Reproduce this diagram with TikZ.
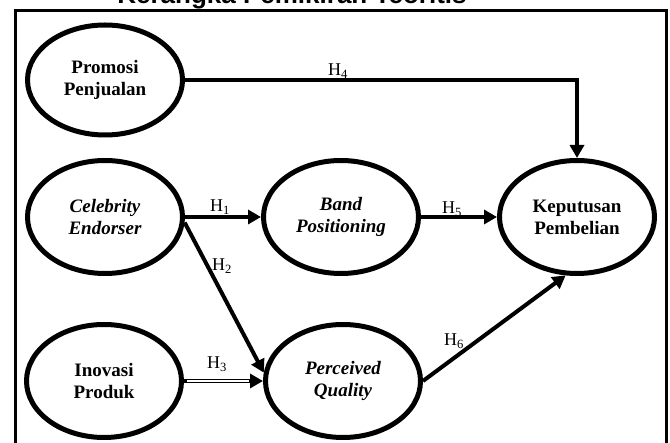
\documentclass[tikz,border=0pt]{standalone}
\usepackage{fontspec}
\setmainfont{Liberation Serif}
\newfontfamily\titlefont{Liberation Sans}
\usetikzlibrary{shapes.geometric,arrows.meta}

\tikzset{
	var/.style={shape=ellipse,draw=black,line width=5pt,fill=white,minimum width=155pt,minimum height=113pt,inner sep=0pt,align=center,font=\fontsize{19}{22}\selectfont\bfseries},
	varit/.style={var,font=\fontsize{19}{22}\selectfont\bfseries\itshape},
	hyp/.style={line width=4pt,-{Triangle[length=13pt,width=14pt]}},
	hlabel/.style={inner sep=0pt,font=\fontsize{18}{20}\selectfont}
}

\begin{document}
\begin{tikzpicture}[x=1pt,y=-1pt]
		\useasboundingbox (0,0) rectangle (670,443);
		\node [anchor=base,font={\titlefont\bfseries\fontsize{26}{30}\selectfont}] (title) at (292,4) {Kerangka Pemikiran Teoritis};
		\draw [line width=3pt] (15,470) -- (15,11) -- (666,11) -- (666,470);
		\node [var,minimum height=110pt] (promosi) at (105,80) {Promosi\\Penjualan};
		\node [varit] (celebrity) at (105,217) {Celebrity\\Endorser};
		\node [var] (inovasi) at (104,381) {Inovasi\\Produk};
		\node [varit] (band) at (341,217) {Band\\Positioning};
		\node [varit] (perceived) at (343,381) {Perceived\\Quality};
		\node [var] (keputusan) at (577,217) {Keputusan\\Pembelian};
		\draw [hyp] (promosi.east) -| (keputusan.north);
		\draw [hyp] (celebrity.east) -- (band.west);
		\draw [hyp] (celebrity.-4) -- (perceived.174);
		\draw [hyp] (inovasi.east) -- (perceived.west);
		\draw [white,line width=1.8pt,shorten <=3pt,shorten >=14pt] (inovasi.east) -- (perceived.west);
		\draw [hyp] (band.east) -- (keputusan.west);
		\draw [hyp] (perceived.east) -- (keputusan.-101);
		\node [hlabel] (h1) at (220,207) {H\textsubscript{1}};
		\node [hlabel] (h2) at (222,266) {H\textsubscript{2}};
		\node [hlabel] (h3) at (217,364) {H\textsubscript{3}};
		\node [hlabel] (h4) at (338,71) {H\textsubscript{4}};
		\node [hlabel] (h5) at (452,209) {H\textsubscript{5}};
		\node [hlabel] (h6) at (454,341) {H\textsubscript{6}};
	\end{tikzpicture}
\end{document}
